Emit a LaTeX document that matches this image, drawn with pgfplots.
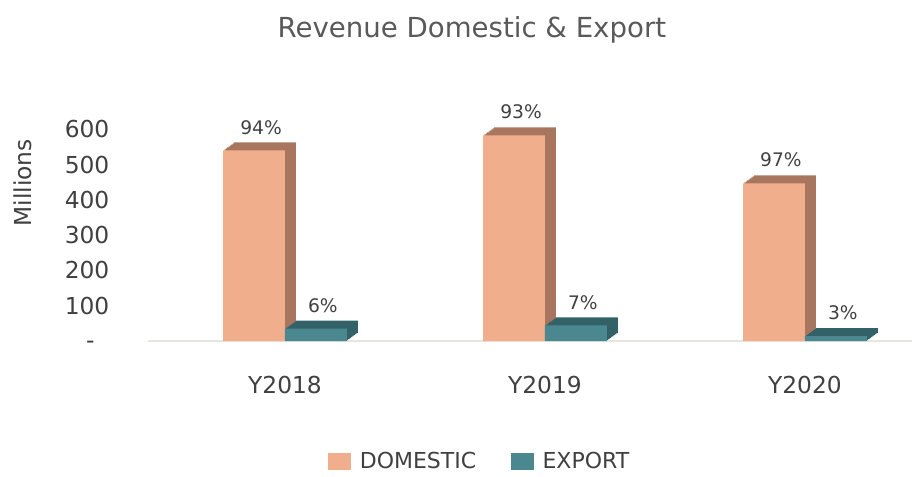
\documentclass[border=0pt]{standalone}
\usepackage{pgfplots}
\pgfplotsset{compat=1.18}
\usepackage{fontspec}
\setmainfont{DejaVu Sans}
\definecolor{domf}{HTML}{F0AE8C}
\definecolor{doms}{HTML}{A8765F}
\definecolor{expf}{HTML}{4A878E}
\definecolor{exps}{HTML}{326268}
\definecolor{txt}{HTML}{404040}
\definecolor{ttl}{HTML}{595959}
\definecolor{floor}{HTML}{E8E4E0}
\tikzset{
  depth3d/.style={
    preaction={fill=#1, transform canvas={shift={(1.03pt,0.75pt)}}},
    preaction={fill=#1, transform canvas={shift={(2.06pt,1.5pt)}}},
    preaction={fill=#1, transform canvas={shift={(3.09pt,2.25pt)}}},
    preaction={fill=#1, transform canvas={shift={(4.12pt,3pt)}}},
    preaction={fill=#1, transform canvas={shift={(5.16pt,3.75pt)}}},
    preaction={fill=#1, transform canvas={shift={(6.19pt,4.5pt)}}},
    preaction={fill=#1, transform canvas={shift={(7.22pt,5.25pt)}}},
    preaction={fill=#1, transform canvas={shift={(8.25pt,6pt)}}}
  }
}
\begin{document}
\begin{tikzpicture}
\path[use as bounding box] (-111pt,-101.25pt) rectangle (573pt,255.75pt);
\begin{axis}[
  scale only axis, width=573pt, height=185.25pt,
  xmin=-0.527, xmax=2.412, ymin=0, ymax=700,
  clip=false,
  axis x line*=bottom, axis y line*=left,
  y axis line style={draw=none},
  x axis line style={draw=floor, line width=1.5pt},
  major tick length=0pt, tick style={draw=none},
  xtick={0,1,2}, xticklabels={Y2018,Y2019,Y2020},
  ytick={0,100,200,300,400,500,600},
  yticklabels={\raisebox{-5.5pt}[0pt][0pt]{-}\kern 11pt,100,200,300,400,500,600},
  ticklabel style={font=\fontsize{17.5}{21}\selectfont, text=txt},
  xticklabel style={yshift=-23pt},
  yticklabel style={xshift=-25.5pt},
  ylabel={Millions},
  ylabel style={at={(axis description cs:-0.1636,0.64)}, anchor=center, font=\fontsize{17.5}{21}\selectfont, text=txt},
  title={Revenue Domestic \& Export},
  title style={at={(axis description cs:0.424,1.227)}, anchor=center, font=\fontsize{20.7}{24}\selectfont, text=ttl},
  ybar, bar width=0.238,
  nodes near coords, point meta=explicit symbolic,
  every node near coord/.append style={font=\fontsize{14}{16}\selectfont, text=txt, anchor=south, xshift=5.25pt, yshift=8.5pt},
  legend style={at={(axis description cs:0.4346,-0.486)}, anchor=center, draw=none, fill=none,
    legend columns=2, font=\fontsize{16.5}{20}\selectfont, text=txt,
    /tikz/every even column/.append style={column sep=24pt}},
  legend cell align=left,
]
\addplot[bar shift=-0.119, draw=none, fill=domf, depth3d=doms,
  legend image code/.code={%
    \pgfpathrectangle{\pgfpoint{0pt}{-6.4pt}}{\pgfpoint{17.25pt}{12.8pt}}%
    \pgfsetfillcolor{domf}\pgfusepath{fill}%
    \pgfpathmoveto{\pgfpoint{21.75pt}{0pt}}\pgfusepath{discard}}]
  coordinates {(0,540) [94\%] (1,583) [93\%] (2,447) [97\%]};
\addlegendentry{DOMESTIC}
\addplot[bar shift=0.119, draw=none, fill=expf, depth3d=exps,
  legend image code/.code={%
    \pgfpathrectangle{\pgfpoint{0pt}{-6.4pt}}{\pgfpoint{17.25pt}{12.8pt}}%
    \pgfsetfillcolor{expf}\pgfusepath{fill}%
    \pgfpathmoveto{\pgfpoint{21.75pt}{0pt}}\pgfusepath{discard}}]
  coordinates {(0,35) [6\%] (1,44) [7\%] (2,14) [3\%]};
\addlegendentry{EXPORT}
\end{axis}
\end{tikzpicture}
\end{document}
